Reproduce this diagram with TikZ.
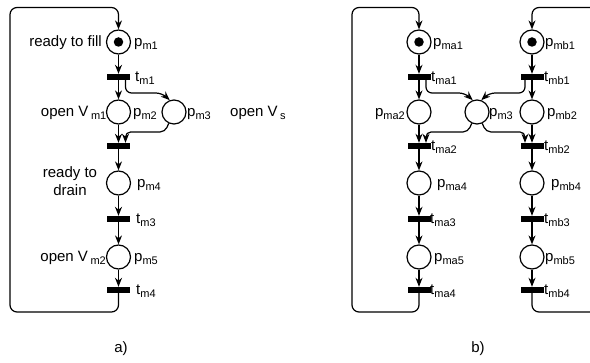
\documentclass[tikz,border=0pt]{standalone}
\usepackage{fontspec}
\setmainfont{Liberation Sans}
\usetikzlibrary{arrows.meta,calc}
\newcommand\sbx[1]{\raisebox{-2.5pt}{\fontsize{11}{12}\selectfont #1}}
\begin{document}
\begin{tikzpicture}[x=1pt,y=-1pt,
 place/.style={circle,draw,line width=1.2pt,minimum size=24pt,inner sep=0pt},
 trans/.style={rectangle,fill=black,minimum width=23pt,minimum height=6pt,inner sep=0pt},
 token/.style={circle,fill=black,minimum size=9.5pt,inner sep=0pt},
 flow/.style={line width=1.2pt,-{Stealth[length=9pt,width=7pt]}},
 lbl/.style={font=\fontsize{15}{18}\selectfont,inner sep=0pt},
 lw/.style={lbl,anchor=base west},
 le/.style={lbl,anchor=base east},
]
\useasboundingbox (0,0) rectangle (590,363);
\clip (0,0) rectangle (590,363);

% ---------- (a) ----------
\node[place] (pm1) at (118.5,42) {};
\node[token] (k1) at (pm1) {};
\node[trans] (tm1) at (118.5,77) {};
\node[place] (pm2) at (118.5,112) {};
\node[place] (pm3) at (174,112) {};
\node[trans] (tm2) at (118.5,146) {};
\node[place] (pm4) at (118.5,183) {};
\node[trans] (tm3) at (118.5,219) {};
\node[place] (pm5) at (118.5,257) {};
\node[trans] (tm4) at (118.5,290) {};

\draw[flow] (pm1) -- (tm1.north);
\draw[flow] (tm1.south) -- (pm2);
\draw[flow] (pm2) -- (tm2.north);
\draw[flow] (tm2.south) -- (pm4);
\draw[flow] (pm4) -- (tm3.north);
\draw[flow] (tm3.south) -- (pm5);
\draw[flow] (pm5) -- (tm4.north);
\draw[flow,rounded corners=6] ($(tm1.south)+(7,0)$) |- ($(pm3)+(-12,-19)$) -- (pm3.110);
\draw[flow,rounded corners=5] (pm3.245) -- ($(pm3)+(-9,20)$) -| ($(tm2.north)+(7,0)$);
\coordinate (abl) at (10,312);
\coordinate (atl) at (10,7.5);
\draw[flow,rounded corners=7] (tm4.south) |- (abl) -- (atl) -| (pm1.north);

\node[le] at (102,47) {ready to fill};
\node[lw] at (134,47) {p\sbx{m1}};
\node[lw] at (135,82) {t\sbx{m1}};
\node[le] at (106.5,117) {open V\,\sbx{m1}};
\node[lw] at (133,117) {p\sbx{m2}};
\node[lw] at (187,117) {p\sbx{m3}};
\node[lw] at (230,117) {open V\,\sbx{s}};
\node[lbl,align=center] at (70,181) {ready to\\drain};
\node[lw] at (137,188) {p\sbx{m4}};
\node[lw] at (136,224) {t\sbx{m3}};
\node[le] at (106,262) {open V\,\sbx{m2}};
\node[lw] at (134,262) {p\sbx{m5}};
\node[lw] at (136,295) {t\sbx{m4}};
\node[lbl] at (121,349) {a)};

% ---------- (b) ----------
\node[place] (pma1) at (419,42) {};
\node[token] (k2) at (pma1) {};
\node[trans] (tma1) at (419,77) {};
\node[place] (pma2) at (419,112) {};
\node[trans] (tma2) at (419,146) {};
\node[place] (pma4) at (419,183) {};
\node[trans] (tma3) at (419,219) {};
\node[place] (pma5) at (419,257) {};
\node[trans] (tma4) at (419,290) {};

\node[place] (pmb1) at (532,42) {};
\node[token] (k3) at (pmb1) {};
\node[trans] (tmb1) at (532,77) {};
\node[place] (pmb2) at (532,112) {};
\node[trans] (tmb2) at (532,146) {};
\node[place] (pmb4) at (532,183) {};
\node[trans] (tmb3) at (532,219) {};
\node[place] (pmb5) at (532,257) {};
\node[trans] (tmb4) at (532,290) {};

\node[place] (pb3) at (477,112) {};

\foreach \c in {a,b}{
 \draw[flow] (pm\c1) -- (tm\c1.north);
 \draw[flow] (tm\c1.south) -- (pm\c2);
 \draw[flow] (pm\c2) -- (tm\c2.north);
 \draw[flow] (tm\c2.south) -- (pm\c4);
 \draw[flow] (pm\c4) -- (tm\c3.north);
 \draw[flow] (tm\c3.south) -- (pm\c5);
 \draw[flow] (pm\c5) -- (tm\c4.north);
}
\draw[flow,rounded corners=6] ($(tma1.south)+(7,0)$) |- ($(pb3)+(-12,-19)$) -- (pb3.110);
\draw[flow,rounded corners=6] ($(tmb1.south)+(-7,0)$) |- ($(pb3)+(12,-19)$) -- (pb3.70);
\draw[flow,rounded corners=5] (pb3.245) -- ($(pb3)+(-9,20)$) -| ($(tma2.north)+(7,0)$);
\draw[flow,rounded corners=5] (pb3.295) -- ($(pb3)+(9,20)$) -| ($(tmb2.north)+(-7,0)$);

\coordinate (bbl) at (352,312);
\coordinate (btl) at (352,7.5);
\draw[flow,rounded corners=7] (tma4.south) |- (bbl) -- (btl) -| (pma1.north);
\coordinate (bbr) at (600,312);
\coordinate (btr) at (600,7.5);
\draw[line width=1.2pt,rounded corners=7] (tmb4.south) |- (bbr);
\draw[flow,rounded corners=7] (btr) -| (pmb1.north);

\node[lw] at (433,47) {p\sbx{ma1}};
\node[lw] at (431,82) {t\sbx{ma1}};
\node[le] at (405,117) {p\sbx{ma2}};
\node[lw] at (489,117) {p\sbx{m3}};
\node[lw] at (431,151) {t\sbx{ma2}};
\node[lw] at (437,188) {p\sbx{ma4}};
\node[lw] at (430,224) {t\sbx{ma3}};
\node[lw] at (434,262) {p\sbx{ma5}};
\node[lw] at (430,295) {t\sbx{ma4}};

\node[lw] at (545,47) {p\sbx{mb1}};
\node[lw] at (544,82) {t\sbx{mb1}};
\node[lw] at (547,117) {p\sbx{mb2}};
\node[lw] at (544,151) {t\sbx{mb2}};
\node[lw] at (551,188) {p\sbx{mb4}};
\node[lw] at (544,224) {t\sbx{mb3}};
\node[lw] at (545,262) {p\sbx{mb5}};
\node[lw] at (544,295) {t\sbx{mb4}};
\node[lbl] at (478,349) {b)};
\end{tikzpicture}
\end{document}
